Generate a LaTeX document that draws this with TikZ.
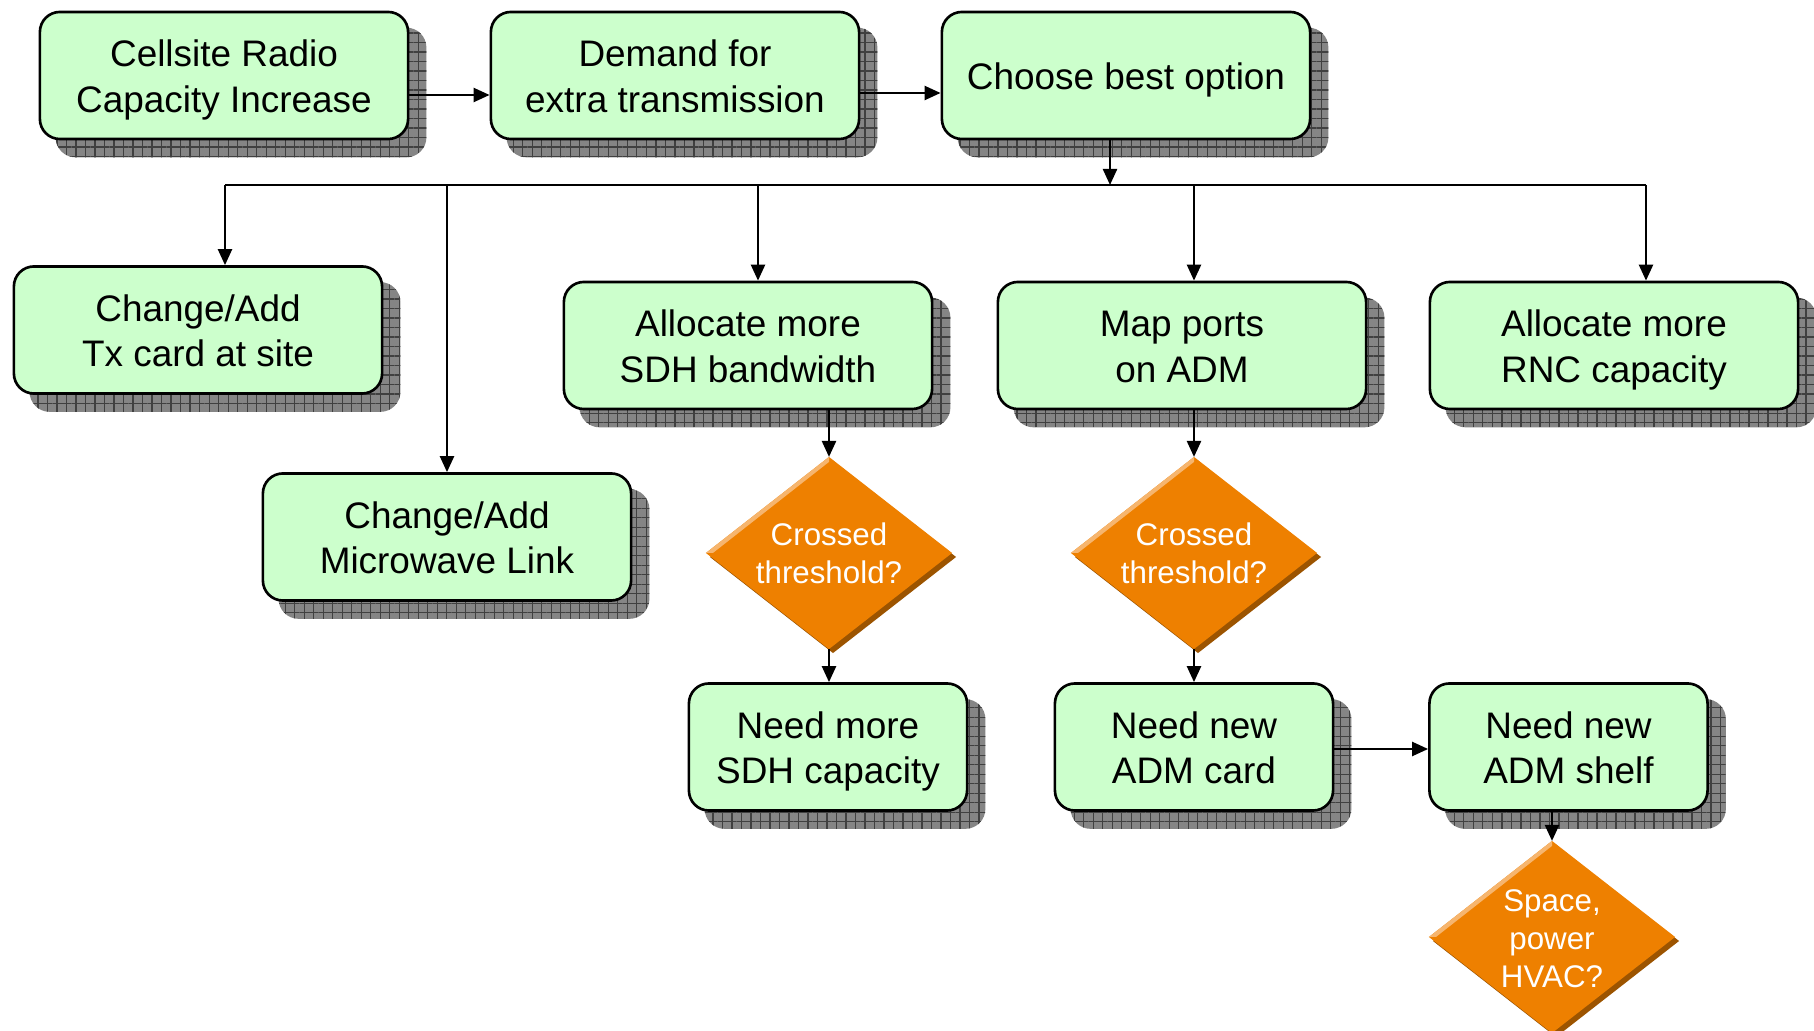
\documentclass[tikz,border=0pt]{standalone}
\usepackage{fontspec}
\setmainfont{Liberation Sans}
\usetikzlibrary{arrows.meta,shapes.geometric,calc,backgrounds,patterns.meta}

\definecolor{boxgreen}{HTML}{CCFFCC}
\definecolor{decorange}{HTML}{EE8000}
\definecolor{bevdark}{HTML}{9C5400}
\definecolor{bevlight}{HTML}{F6B56E}
\definecolor{shadefill}{HTML}{858585}
\definecolor{shadeline}{HTML}{404040}

% hatched drop shadow behind a rounded box
\newcommand\boxshadow[1]{%
  \begin{scope}[on background layer]
    \fill[shadefill, rounded corners=0.2cm]
      ($(#1.south west)+(17,17)$) rectangle ($(#1.north east)+(17,17)$);
    \fill[pattern={Hatch[angle=0,distance=0.095cm,line width=0.35pt]}, pattern color=shadeline,
      rounded corners=0.2cm]
      ($(#1.south west)+(17,17)$) rectangle ($(#1.north east)+(17,17)$);
  \end{scope}}

% bevelled look of a decision diamond
\newcommand\diamondbevel[1]{%
  \begin{scope}[on background layer]
    \fill[bevdark] ($(#1.north)+(4,4)$) -- ($(#1.east)+(4,4)$) -- ($(#1.south)+(4,4)$) -- ($(#1.west)+(4,4)$) -- cycle;
  \end{scope}
  \fill[bevlight] (#1.west) -- (#1.north) -- ($(#1.north)+(0,5)$) -- ($(#1.west)+(7,0)$) -- cycle;}

% box label, lowered slightly inside its box
\newcommand\boxtext[1]{\raisebox{-0.05cm}[\height][\depth]{\begin{tabular}{@{}c@{}}#1\end{tabular}}}

\begin{document}
\begin{tikzpicture}[x=0.01cm,y=-0.01cm,
  stepbox/.style={draw=black, line width=0.75pt, fill=boxgreen, rounded corners=0.2cm,
    minimum width=3.68cm, minimum height=1.27cm, inner sep=0pt,
    font=\fontsize{10.5}{12.8}\selectfont},
  smallbox/.style={stepbox, minimum width=2.78cm},
  decision/.style={diamond, fill=decorange, inner sep=0pt, outer sep=0pt,
    minimum width=2.46cm, minimum height=1.92cm},
  dectext/.style={text=white, align=center, inner sep=0pt, font=\fontsize{8.9}{10.8}\selectfont},
  conn/.style={line width=0.68pt, draw=black},
  arr/.style={conn, -{Triangle[length=0.16cm,width=0.14cm]}}]

\useasboundingbox (0,0) rectangle (1814,1031);
\begin{scope}[on background layer]
  \fill[white] (0,0) rectangle (1814,1031);
\end{scope}

% top row
\node[stepbox] (cellsite) at (224,75.5) {\boxtext{Cellsite Radio\\Capacity Increase}};
\node[stepbox] (demand)   at (675,75.5) {\boxtext{Demand for\\extra transmission}};
\node[stepbox] (choose)   at (1126,75.5) {\boxtext{Choose best option}};

% options
\node[stepbox] (tx)    at (198,330)   {\boxtext{Change/Add\\Tx card at site}};
\node[stepbox] (mw)    at (447,537)   {\boxtext{Change/Add\\Microwave Link}};
\node[stepbox] (sdha)  at (748,345.5) {\boxtext{Allocate more\\SDH bandwidth}};
\node[stepbox] (map)   at (1182,345.5) {\boxtext{Map ports\\on ADM}};
\node[stepbox] (rnc)   at (1614,345.5) {\boxtext{Allocate more\\RNC capacity}};

% decisions
\node[decision] (d1) at (829,553) {};
\diamondbevel{d1}
\node[dectext] (d1t) at (d1) {Crossed\\threshold?};
\node[decision] (d2) at (1194,553) {};
\diamondbevel{d2}
\node[dectext] (d2t) at (d2) {Crossed\\threshold?};

% consequences
\node[smallbox] (sdhc)  at (828,747)    {\boxtext{Need more\\SDH capacity}};
\node[smallbox] (adm)   at (1194,747)   {\boxtext{Need new\\ADM card}};
\node[smallbox] (shelf) at (1568.5,747) {\boxtext{Need new\\ADM shelf}};

\node[decision] (d3) at (1552,937) {};
\diamondbevel{d3}
\node[dectext] (d3t) at ($(d3)+(0,2)$) {Space,\\power\\HVAC?};

\boxshadow{cellsite}
\boxshadow{demand}
\boxshadow{choose}
\boxshadow{tx}
\boxshadow{mw}
\boxshadow{sdha}
\boxshadow{map}
\boxshadow{rnc}
\boxshadow{sdhc}
\boxshadow{adm}
\boxshadow{shelf}

% connectors
\draw[arr] ($(cellsite.east)+(0,19.5)$) -- ($(demand.west)+(0,19.5)$);
\draw[arr] ($(demand.east)+(0,17.5)$) -- ($(choose.west)+(0,17.5)$);

\coordinate (busL)   at (225,185);
\coordinate (busMW)  at (447,185);
\coordinate (busSDH) at (758,185);
\coordinate (busIn)  at (1110,185);
\coordinate (busMap) at (1194,185);
\coordinate (busR)   at (1646,185);

\draw[arr] (busIn |- choose.south) -- (busIn);
\draw[conn] (busL) -- (busR);
\draw[arr] (busL) -- (busL |- tx.north);
\draw[arr] (busMW) -- (busMW |- mw.north);
\draw[arr] (busSDH) -- (busSDH |- sdha.north);
\draw[arr] (busMap) -- (busMap |- map.north);
\draw[arr] (busR) -- (busR |- rnc.north);

\draw[arr] (d1.north |- sdha.south) -- (d1.north);
\draw[arr] (d1.south) -- (d1.south |- sdhc.north);
\draw[arr] (d2.north |- map.south) -- (d2.north);
\draw[arr] (d2.south) -- (d2.south |- adm.north);
\draw[arr] ($(adm.east)+(0,2)$) -- ($(shelf.west)+(0,2)$);
\draw[arr] (d3.north |- shelf.south) -- (d3.north);

\end{tikzpicture}
\end{document}
